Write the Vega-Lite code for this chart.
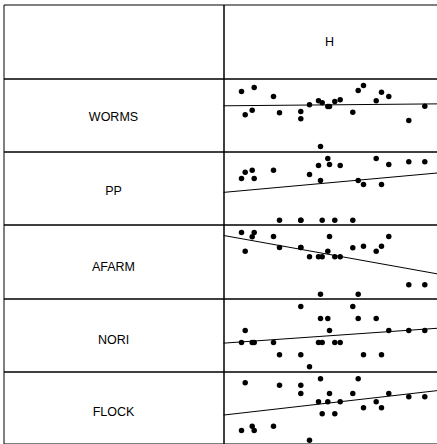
{
  "$schema": "https://vega.github.io/schema/vega-lite/v6.json",
  "padding": {"left": 2.5, "top": 3.5, "right": 0, "bottom": 0},
  "background": "white",
  "columns": 2,
  "spacing": 0,
  "bounds": "flush",
  "config": {
    "view": {"stroke": "black", "strokeWidth": 1},
    "concat": {"spacing": 0},
    "text": {"font": "Liberation Sans", "fontSize": 12.5, "color": "black", "fill": "black"}
  },
  "datasets": {
    "obs": [
      {"H": 18, "WORMS": 60, "PP": 46, "AFARM": 66, "NORI": 29, "FLOCK": 13},
      {"H": 21.7, "WORMS": 36.7, "PP": 52.3, "AFARM": 47.3, "NORI": 41, "FLOCK": 60.7},
      {"H": 28.7, "WORMS": 41.3, "PP": 54.3, "AFARM": 61.7, "NORI": 29, "FLOCK": 17.3},
      {"H": 30.7, "WORMS": 64, "PP": 46, "AFARM": 66, "NORI": 29, "FLOCK": 13},
      {"H": 50, "WORMS": 55, "PP": 54.3, "AFARM": 62, "NORI": 29, "FLOCK": 17.3},
      {"H": 56, "WORMS": 38.7, "PP": 4.3, "AFARM": 51, "NORI": 16.7, "FLOCK": 58.3},
      {"H": 77.3, "WORMS": 40, "PP": 4.3, "AFARM": 51, "NORI": 65, "FLOCK": 58.3},
      {"H": 77.3, "WORMS": 32.7, "PP": 4.3, "AFARM": 51, "NORI": 16.7, "FLOCK": 50},
      {"H": 86, "WORMS": 46.7, "PP": 50, "AFARM": 41.7, "NORI": 4.7, "FLOCK": 3.3},
      {"H": 95, "WORMS": 50.7, "PP": 59, "AFARM": 41.7, "NORI": 29, "FLOCK": 41.7},
      {"H": 97, "WORMS": 5, "PP": 44, "AFARM": 4.3, "NORI": 53, "FLOCK": 64.7},
      {"H": 98.7, "WORMS": 48.7, "PP": 4.3, "AFARM": 41.7, "NORI": 29, "FLOCK": 29.7},
      {"H": 104.3, "WORMS": 45, "PP": 66, "AFARM": 47.3, "NORI": 53, "FLOCK": 41.7},
      {"H": 106, "WORMS": 45, "PP": 60, "AFARM": 62, "NORI": 41, "FLOCK": 50},
      {"H": 111.3, "WORMS": 50, "PP": 4.3, "AFARM": 41.7, "NORI": 29, "FLOCK": 29.7},
      {"H": 116.7, "WORMS": 51.7, "PP": 59, "AFARM": 41.7, "NORI": 29, "FLOCK": 41.7},
      {"H": 129.3, "WORMS": 39.3, "PP": 4.3, "AFARM": 50.7, "NORI": 65, "FLOCK": 50},
      {"H": 134.7, "WORMS": 61, "PP": 44, "AFARM": 4.3, "NORI": 53, "FLOCK": 64.7},
      {"H": 140, "WORMS": 66, "PP": 40, "AFARM": 52.3, "NORI": 16.7, "FLOCK": 35.7},
      {"H": 152.7, "WORMS": 50.7, "PP": 66, "AFARM": 47.3, "NORI": 53, "FLOCK": 41.7},
      {"H": 158, "WORMS": 59.3, "PP": 40, "AFARM": 52.3, "NORI": 16.7, "FLOCK": 35.7},
      {"H": 165.3, "WORMS": 55, "PP": 60, "AFARM": 62, "NORI": 41, "FLOCK": 50},
      {"H": 185.3, "WORMS": 31, "PP": 62.7, "AFARM": 13.7, "NORI": 41, "FLOCK": 46.7},
      {"H": 201.3, "WORMS": 45.3, "PP": 62.7, "AFARM": 13.7, "NORI": 41, "FLOCK": 46.7}
    ]
  },
  "concat": [
    {"width": 220, "height": 74, "data": {"values": [{"label": "", "cx": 1, "cy": 1}]}, "mark": {"type": "text", "fill": "black"},
     "encoding": {"text": {"field": "label"}, "x": {"field": "cx", "type": "quantitative", "scale": {"domain": [0, 2]}, "axis": null}, "y": {"field": "cy", "type": "quantitative", "scale": {"domain": [0, 2]}, "axis": null}}},
    {"width": 215, "height": 74, "data": {"values": [{"label": "H", "cx": 1.0, "cy": 1}]}, "mark": {"type": "text", "fill": "black"},
     "encoding": {"text": {"field": "label"}, "x": {"field": "cx", "type": "quantitative", "scale": {"domain": [0, 2.03]}, "axis": null}, "y": {"field": "cy", "type": "quantitative", "scale": {"domain": [0, 2]}, "axis": null}}},

    {"width": 220, "height": 73, "data": {"values": [{"label": "WORMS", "cx": 1, "cy": 1}]}, "mark": {"type": "text", "fill": "black", "dy": 2},
     "encoding": {"text": {"field": "label"}, "x": {"field": "cx", "type": "quantitative", "scale": {"domain": [0, 2]}, "axis": null}, "y": {"field": "cy", "type": "quantitative", "scale": {"domain": [0, 2]}, "axis": null}}},
    {"width": 215, "height": 73, "data": {"name": "obs"},
     "layer": [
       {"mark": {"type": "circle", "size": 30, "color": "black", "opacity": 1},
        "encoding": {"x": {"field": "H", "type": "quantitative", "scale": {"domain": [0, 215], "nice": false, "zero": false}, "axis": null},
                     "y": {"field": "WORMS", "type": "quantitative", "scale": {"domain": [0, 73], "nice": false, "zero": false}, "axis": null}}},
       {"transform": [{"regression": "WORMS", "on": "H", "extent": [0, 215]}],
        "mark": {"type": "line", "color": "black", "strokeWidth": 1},
        "encoding": {"x": {"field": "H", "type": "quantitative", "scale": {"domain": [0, 215], "nice": false, "zero": false}, "axis": null},
                     "y": {"field": "WORMS", "type": "quantitative", "scale": {"domain": [0, 73], "nice": false, "zero": false}, "axis": null}}}
     ]},

    {"width": 220, "height": 73, "data": {"values": [{"label": "PP", "cx": 1, "cy": 1}]}, "mark": {"type": "text", "fill": "black", "dy": 3},
     "encoding": {"text": {"field": "label"}, "x": {"field": "cx", "type": "quantitative", "scale": {"domain": [0, 2]}, "axis": null}, "y": {"field": "cy", "type": "quantitative", "scale": {"domain": [0, 2]}, "axis": null}}},
    {"width": 215, "height": 73, "data": {"name": "obs"},
     "layer": [
       {"mark": {"type": "circle", "size": 30, "color": "black", "opacity": 1},
        "encoding": {"x": {"field": "H", "type": "quantitative", "scale": {"domain": [0, 215], "nice": false, "zero": false}, "axis": null},
                     "y": {"field": "PP", "type": "quantitative", "scale": {"domain": [0, 73], "nice": false, "zero": false}, "axis": null}}},
       {"transform": [{"regression": "PP", "on": "H", "extent": [0, 215]}],
        "mark": {"type": "line", "color": "black", "strokeWidth": 1},
        "encoding": {"x": {"field": "H", "type": "quantitative", "scale": {"domain": [0, 215], "nice": false, "zero": false}, "axis": null},
                     "y": {"field": "PP", "type": "quantitative", "scale": {"domain": [0, 73], "nice": false, "zero": false}, "axis": null}}}
     ]},

    {"width": 220, "height": 74, "data": {"values": [{"label": "AFARM", "cx": 1, "cy": 1}]}, "mark": {"type": "text", "fill": "black", "dy": 5},
     "encoding": {"text": {"field": "label"}, "x": {"field": "cx", "type": "quantitative", "scale": {"domain": [0, 2]}, "axis": null}, "y": {"field": "cy", "type": "quantitative", "scale": {"domain": [0, 2]}, "axis": null}}},
    {"width": 215, "height": 74, "data": {"name": "obs"},
     "layer": [
       {"mark": {"type": "circle", "size": 30, "color": "black", "opacity": 1},
        "encoding": {"x": {"field": "H", "type": "quantitative", "scale": {"domain": [0, 215], "nice": false, "zero": false}, "axis": null},
                     "y": {"field": "AFARM", "type": "quantitative", "scale": {"domain": [0, 74], "nice": false, "zero": false}, "axis": null}}},
       {"transform": [{"regression": "AFARM", "on": "H", "extent": [0, 215]}],
        "mark": {"type": "line", "color": "black", "strokeWidth": 1},
        "encoding": {"x": {"field": "H", "type": "quantitative", "scale": {"domain": [0, 215], "nice": false, "zero": false}, "axis": null},
                     "y": {"field": "AFARM", "type": "quantitative", "scale": {"domain": [0, 74], "nice": false, "zero": false}, "axis": null}}}
     ]},

    {"width": 220, "height": 73, "data": {"values": [{"label": "NORI", "cx": 1, "cy": 1}]}, "mark": {"type": "text", "fill": "black", "dy": 5},
     "encoding": {"text": {"field": "label"}, "x": {"field": "cx", "type": "quantitative", "scale": {"domain": [0, 2]}, "axis": null}, "y": {"field": "cy", "type": "quantitative", "scale": {"domain": [0, 2]}, "axis": null}}},
    {"width": 215, "height": 73, "data": {"name": "obs"},
     "layer": [
       {"mark": {"type": "circle", "size": 30, "color": "black", "opacity": 1},
        "encoding": {"x": {"field": "H", "type": "quantitative", "scale": {"domain": [0, 215], "nice": false, "zero": false}, "axis": null},
                     "y": {"field": "NORI", "type": "quantitative", "scale": {"domain": [0, 73], "nice": false, "zero": false}, "axis": null}}},
       {"transform": [{"regression": "NORI", "on": "H", "extent": [0, 215]}],
        "mark": {"type": "line", "color": "black", "strokeWidth": 1},
        "encoding": {"x": {"field": "H", "type": "quantitative", "scale": {"domain": [0, 215], "nice": false, "zero": false}, "axis": null},
                     "y": {"field": "NORI", "type": "quantitative", "scale": {"domain": [0, 73], "nice": false, "zero": false}, "axis": null}}}
     ]},

    {"width": 220, "height": 72, "data": {"values": [{"label": "FLOCK", "cx": 1, "cy": 1}]}, "mark": {"type": "text", "fill": "black", "dy": 4},
     "encoding": {"text": {"field": "label"}, "x": {"field": "cx", "type": "quantitative", "scale": {"domain": [0, 2]}, "axis": null}, "y": {"field": "cy", "type": "quantitative", "scale": {"domain": [0, 2]}, "axis": null}}},
    {"width": 215, "height": 72, "data": {"name": "obs"},
     "layer": [
       {"mark": {"type": "circle", "size": 30, "color": "black", "opacity": 1},
        "encoding": {"x": {"field": "H", "type": "quantitative", "scale": {"domain": [0, 215], "nice": false, "zero": false}, "axis": null},
                     "y": {"field": "FLOCK", "type": "quantitative", "scale": {"domain": [0, 72], "nice": false, "zero": false}, "axis": null}}},
       {"transform": [{"regression": "FLOCK", "on": "H", "extent": [0, 215]}],
        "mark": {"type": "line", "color": "black", "strokeWidth": 1},
        "encoding": {"x": {"field": "H", "type": "quantitative", "scale": {"domain": [0, 215], "nice": false, "zero": false}, "axis": null},
                     "y": {"field": "FLOCK", "type": "quantitative", "scale": {"domain": [0, 72], "nice": false, "zero": false}, "axis": null}}}
     ]}
  ]
}
